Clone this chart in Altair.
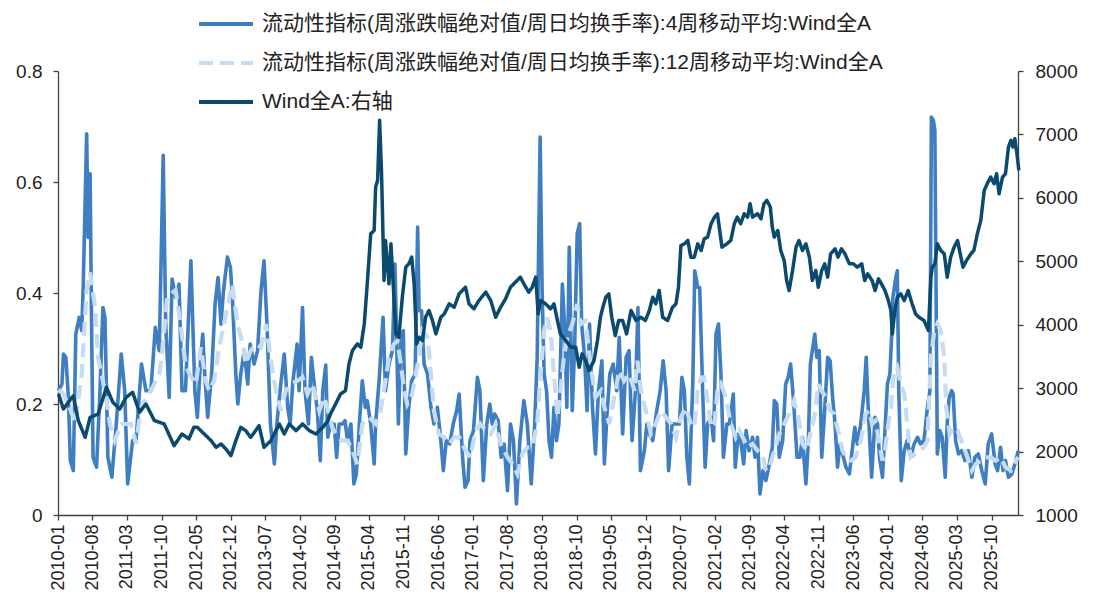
import altair as alt
import pandas as pd
import numpy as np

S1 = "流动性指标(周涨跌幅绝对值/周日均换手率):4周移动平均:Wind全A"
S2 = "流动性指标(周涨跌幅绝对值/周日均换手率):12周移动平均:Wind全A"
S3 = "Wind全A:右轴"

# (months since 2010-01, value)
ma4 = [(0.1,0.224),(0.8,0.236),(1.1,0.290),(1.6,0.284),(2.1,0.212),(2.5,0.098),(3.1,0.080),(3.6,0.326),(4.3,0.356),(4.8,0.332),(5.1,0.410),(5.8,0.687),(6.1,0.500),(6.5,0.615),(6.8,0.344),(7.1,0.104),(7.8,0.086),(8.5,0.224),(9.1,0.374),(9.5,0.356),(10.1,0.104),(10.9,0.068),(11.8,0.164),(12.8,0.290),(13.5,0.224),(14.1,0.056),(15.1,0.134),(15.8,0.134),(16.9,0.272),(17.8,0.224),(18.8,0.224),(19.7,0.338),(20.5,0.296),(21.3,0.648),(21.8,0.344),(22.5,0.212),(23.1,0.425),(23.8,0.392),(24.5,0.416),(25.1,0.224),(25.8,0.224),(26.9,0.458),(27.7,0.224),(28.2,0.176),(28.9,0.284),(29.3,0.326),(29.7,0.254),(30.3,0.176),(31.1,0.254),(31.8,0.380),(32.4,0.428),(33.0,0.344),(33.5,0.404),(34.3,0.465),(34.9,0.446),(35.3,0.392),(36.0,0.254),(36.4,0.200),(37.0,0.254),(37.7,0.296),(38.4,0.236),(38.9,0.308),(39.7,0.272),(40.4,0.296),(41.1,0.404),(41.7,0.458),(42.3,0.344),(43.0,0.164),(43.8,0.092),(44.3,0.164),(45.1,0.236),(45.8,0.290),(46.5,0.194),(47.0,0.164),(47.5,0.236),(48.4,0.308),(48.8,0.224),(49.5,0.374),(50.0,0.224),(50.7,0.164),(51.3,0.284),(52.0,0.224),(52.5,0.188),(53.1,0.098),(53.6,0.224),(54.2,0.270),(54.6,0.140),(55.2,0.164),(55.9,0.164),(56.4,0.104),(56.9,0.164),(57.6,0.164),(58.1,0.170),(58.6,0.134),(59.3,0.164),(59.9,0.056),(60.4,0.074),(61.0,0.164),(61.6,0.242),(62.2,0.194),(62.6,0.206),(63.3,0.164),(64.0,0.092),(64.3,0.164),(65.0,0.242),(65.8,0.356),(66.3,0.224),(67.0,0.272),(67.7,0.296),(68.2,0.452),(68.5,0.344),(68.9,0.164),(69.4,0.314),(69.9,0.332),(70.4,0.110),(71.0,0.194),(71.6,0.242),(72.3,0.254),(72.8,0.519),(73.1,0.368),(73.6,0.368),(74.1,0.272),(74.8,0.254),(75.5,0.194),(76.1,0.164),(76.8,0.194),(77.5,0.134),(78.0,0.080),(78.6,0.134),(79.3,0.128),(80.0,0.164),(80.7,0.188),(81.2,0.218),(81.9,0.104),(82.4,0.050),(83.0,0.062),(83.4,0.134),(84.1,0.152),(84.9,0.248),(85.4,0.224),(86.1,0.062),(86.8,0.164),(87.4,0.200),(87.9,0.164),(88.4,0.182),(89.1,0.170),(89.7,0.104),(90.3,0.128),(91.0,0.044),(91.6,0.164),(92.2,0.134),(92.8,0.020),(93.5,0.134),(94.3,0.206),(95.0,0.164),(95.8,0.056),(96.5,0.164),(97.0,0.284),(97.6,0.681),(98.0,0.404),(98.4,0.254),(98.9,0.224),(99.4,0.134),(99.9,0.104),(100.4,0.194),(100.9,0.134),(101.4,0.164),(102.1,0.416),(102.6,0.332),(103.0,0.194),(103.5,0.483),(104.1,0.188),(104.6,0.308),(105.1,0.507),(105.6,0.525),(106.0,0.344),(106.6,0.284),(107.1,0.188),(107.6,0.344),(108.2,0.194),(108.8,0.110),(109.4,0.224),(110.1,0.278),(110.6,0.092),(111.1,0.176),(111.7,0.254),(112.4,0.272),(113.1,0.224),(113.6,0.320),(114.3,0.146),(115.0,0.284),(115.6,0.296),(116.2,0.134),(116.9,0.224),(117.4,0.374),(117.9,0.080),(118.7,0.116),(119.2,0.164),(119.7,0.146),(120.4,0.134),(121.2,0.188),(121.9,0.224),(122.5,0.278),(123.1,0.224),(123.6,0.080),(124.3,0.164),(125.0,0.164),(125.8,0.164),(126.3,0.248),(126.8,0.224),(127.3,0.104),(127.8,0.056),(128.5,0.236),(128.9,0.440),(129.5,0.410),(129.9,0.410),(130.5,0.224),(131.0,0.086),(131.5,0.164),(132.2,0.176),(132.7,0.134),(133.2,0.326),(133.7,0.344),(134.2,0.254),(134.7,0.104),(135.4,0.164),(135.9,0.164),(136.7,0.218),(137.1,0.086),(137.7,0.146),(138.2,0.134),(138.8,0.092),(139.3,0.152),(139.9,0.116),(140.6,0.140),(141.1,0.104),(141.6,0.140),(142.1,0.038),(142.7,0.080),(143.3,0.062),(144.0,0.092),(144.6,0.122),(145.0,0.206),(145.5,0.200),(146.0,0.104),(146.7,0.134),(147.3,0.236),(147.8,0.248),(148.3,0.272),(148.9,0.206),(149.6,0.104),(150.2,0.104),(150.7,0.140),(151.4,0.056),(151.9,0.134),(152.3,0.272),(152.7,0.296),(153.2,0.326),(153.6,0.284),(154.1,0.296),(154.6,0.104),(155.2,0.188),(155.8,0.284),(156.3,0.278),(156.8,0.212),(157.3,0.164),(157.8,0.086),(158.3,0.128),(159.0,0.104),(159.5,0.086),(160.2,0.074),(160.6,0.104),(161.3,0.158),(161.8,0.128),(162.5,0.164),(163.2,0.224),(163.6,0.284),(164.0,0.194),(164.7,0.068),(165.4,0.176),(165.9,0.164),(166.3,0.104),(166.9,0.068),(167.4,0.152),(167.9,0.236),(168.4,0.254),(168.8,0.332),(169.0,0.392),(169.6,0.428),(169.9,0.440),(170.2,0.224),(170.7,0.062),(171.3,0.116),(171.9,0.134),(172.6,0.104),(173.3,0.128),(174.0,0.140),(174.6,0.128),(175.3,0.134),(176.0,0.194),(176.5,0.224),(176.8,0.717),(177.2,0.711),(177.5,0.693),(177.8,0.344),(178.0,0.110),(178.5,0.152),(179.0,0.140),(179.6,0.068),(180.0,0.164),(180.4,0.212),(180.9,0.224),(181.2,0.218),(181.7,0.134),(182.3,0.110),(182.9,0.116),(183.6,0.098),(184.3,0.116),(185.0,0.068),(185.6,0.104),(186.3,0.110),(187.0,0.080),(187.7,0.056),(188.3,0.128),(189.0,0.146),(189.7,0.092),(190.2,0.080),(190.8,0.122),(191.3,0.080),(191.8,0.098),(192.4,0.068),(193.1,0.074),(193.7,0.092),(194.4,0.116)]

ma12 = [(0.1,0.225),(1.0,0.220),(2.5,0.190),(3.5,0.165),(4.8,0.254),(5.8,0.405),(6.5,0.437),(7.5,0.374),(8.1,0.284),(9.5,0.224),(10.5,0.164),(11.5,0.134),(12.8,0.164),(14.8,0.164),(15.8,0.128),(16.8,0.194),(18.8,0.224),(20.5,0.254),(21.1,0.296),(22.1,0.392),(22.8,0.398),(23.8,0.405),(24.8,0.344),(25.8,0.272),(26.8,0.250),(27.9,0.236),(28.9,0.302),(29.9,0.242),(30.6,0.224),(31.6,0.242),(32.6,0.302),(33.6,0.344),(34.3,0.374),(35.3,0.416),(36.3,0.344),(37.4,0.308),(38.0,0.272),(39.0,0.296),(40.0,0.308),(41.1,0.302),(42.1,0.344),(43.1,0.278),(44.1,0.224),(45.1,0.188),(46.1,0.224),(47.1,0.236),(48.5,0.242),(49.5,0.248),(50.5,0.218),(51.5,0.236),(52.9,0.188),(53.9,0.212),(54.6,0.190),(55.5,0.158),(56.6,0.140),(57.6,0.134),(58.6,0.134),(59.6,0.116),(60.6,0.092),(61.6,0.164),(63.0,0.176),(64.3,0.164),(65.3,0.188),(66.3,0.242),(67.0,0.284),(68.0,0.308),(68.7,0.314),(69.4,0.272),(70.1,0.224),(70.7,0.200),(71.7,0.218),(72.8,0.272),(73.8,0.332),(74.8,0.320),(75.5,0.254),(76.1,0.188),(77.1,0.146),(78.2,0.140),(79.2,0.128),(80.2,0.140),(81.2,0.140),(82.5,0.116),(83.5,0.104),(84.5,0.152),(85.5,0.164),(86.6,0.152),(87.6,0.146),(88.6,0.164),(89.6,0.128),(91.0,0.104),(92.0,0.092),(93.0,0.074),(94.0,0.110),(95.0,0.122),(96.0,0.122),(97.0,0.164),(97.7,0.254),(98.4,0.332),(99.0,0.356),(99.7,0.332),(100.4,0.254),(101.1,0.176),(101.7,0.224),(102.4,0.284),(103.1,0.320),(104.1,0.344),(105.1,0.380),(105.8,0.344),(106.8,0.350),(107.8,0.272),(108.8,0.212),(109.9,0.224),(110.6,0.194),(111.6,0.164),(112.6,0.212),(113.6,0.260),(114.6,0.242),(115.6,0.254),(116.7,0.224),(117.3,0.278),(118.0,0.224),(119.0,0.188),(120.0,0.146),(121.0,0.164),(122.0,0.188),(123.1,0.176),(124.1,0.164),(125.1,0.140),(126.1,0.176),(127.1,0.194),(128.1,0.164),(128.8,0.158),(129.5,0.224),(130.2,0.248),(130.8,0.248),(131.5,0.206),(132.2,0.158),(132.9,0.164),(133.5,0.224),(134.2,0.236),(135.2,0.212),(136.2,0.164),(137.2,0.140),(137.9,0.152),(138.6,0.140),(139.6,0.122),(140.6,0.128),(141.6,0.116),(142.6,0.110),(143.3,0.080),(144.0,0.086),(145.0,0.116),(146.0,0.146),(147.0,0.164),(148.0,0.182),(149.0,0.206),(150.0,0.170),(150.7,0.128),(151.6,0.116),(152.4,0.152),(153.1,0.176),(153.9,0.236),(154.6,0.224),(155.4,0.212),(156.3,0.188),(157.1,0.182),(158.1,0.146),(158.8,0.116),(159.5,0.104),(160.5,0.098),(161.5,0.104),(162.5,0.134),(163.5,0.182),(164.2,0.188),(164.8,0.164),(165.5,0.170),(166.3,0.128),(166.9,0.098),(167.4,0.116),(167.9,0.152),(168.6,0.194),(169.2,0.254),(169.9,0.266),(170.6,0.236),(171.3,0.218),(171.9,0.164),(172.6,0.104),(173.5,0.110),(174.3,0.116),(175.3,0.122),(176.0,0.134),(176.7,0.284),(177.3,0.326),(178.0,0.344),(178.7,0.332),(179.4,0.284),(179.8,0.194),(180.5,0.146),(181.2,0.158),(182.1,0.152),(183.1,0.128),(184.1,0.104),(185.0,0.080),(185.8,0.092),(186.8,0.098),(187.8,0.104),(188.8,0.104),(189.8,0.098),(190.8,0.104),(191.8,0.086),(192.9,0.080),(193.9,0.098),(194.4,0.104)]

winda = [(0.1,2910),(1.1,2670),(2.1,2777),(3.1,2880),(4.1,2490),(5.5,2225),(6.5,2540),(8.1,2590),(9.8,3014),(11.1,2777),(12.5,2670),(13.8,2856),(15.1,2935),(16.5,2620),(17.8,2750),(19.5,2490),(21.5,2435),(23.5,2093),(25.1,2277),(26.5,2200),(27.5,2383),(28.2,2383),(29.6,2277),(31.0,2172),(32.0,2067),(33.0,2120),(34.0,2040),(35.0,1935),(36.0,2172),(37.0,2383),(38.0,2330),(39.0,2225),(40.0,2330),(40.7,2409),(41.7,2067),(43.1,2172),(44.1,2330),(44.8,2435),(45.8,2277),(46.8,2435),(48.2,2330),(49.5,2435),(50.9,2330),(52.2,2277),(53.6,2382),(54.6,2480),(55.2,2600),(56.2,2750),(57.2,2908),(58.2,2961),(58.9,3382),(59.6,3592),(60.6,3697),(61.3,3645),(62.0,4013),(62.6,4644),(63.3,5433),(64.0,5486),(64.3,6170),(64.7,6275),(65.1,7222),(65.5,6380),(66.0,4697),(66.3,5328),(67.0,4644),(67.4,5275),(68.0,4434),(68.4,3855),(69.0,3803),(69.7,4434),(70.4,4907),(71.0,4960),(71.6,5065),(72.1,4644),(72.6,3697),(73.1,3803),(73.8,3750),(74.4,4118),(75.1,4224),(75.8,4066),(76.5,3855),(77.5,4118),(78.2,4171),(79.2,4329),(80.2,4276),(81.2,4487),(82.5,4592),(83.2,4329),(84.2,4250),(85.2,4381),(86.6,4513),(87.6,4381),(88.6,4118),(89.6,4276),(90.6,4408),(91.6,4592),(92.6,4671),(93.6,4750),(94.3,4644),(95.3,4513),(96.0,4592),(96.7,4750),(97.2,4171),(97.7,4381),(98.7,4329),(99.7,4250),(100.4,4329),(101.1,4066),(101.7,3855),(102.8,3750),(103.8,3645),(104.8,3645),(105.5,3329),(106.1,3540),(106.8,3434),(107.5,3276),(108.5,3434),(109.2,3750),(109.8,4118),(110.3,4276),(110.9,4434),(111.5,4487),(112.1,4118),(112.8,3829),(113.5,4066),(114.3,4066),(115.1,3855),(116.0,4224),(117.0,4066),(118.0,4118),(118.9,4066),(119.7,4224),(120.4,4434),(121.0,4329),(121.7,4539),(122.4,4118),(123.4,4066),(124.4,4276),(125.1,4329),(125.6,4592),(126.1,5249),(126.8,5275),(127.5,5328),(128.1,5065),(128.8,5065),(129.5,5275),(130.2,5170),(130.8,5354),(131.5,5381),(132.2,5591),(132.9,5696),(133.5,5749),(134.4,5223),(135.4,5275),(136.2,5330),(136.9,5591),(137.5,5696),(138.2,5591),(138.9,5749),(139.6,5696),(140.1,5907),(140.6,5696),(141.6,5749),(142.3,5670),(142.9,5907),(143.5,5959),(144.2,5854),(144.6,5538),(145.0,5381),(145.7,5486),(146.3,5170),(147.0,5012),(147.5,4697),(148.0,4539),(148.7,4855),(149.4,5223),(150.0,5328),(150.7,5170),(151.4,5275),(152.1,5065),(152.7,4697),(153.4,4855),(153.9,4592),(154.6,4855),(155.2,4960),(155.8,4750),(156.4,5118),(157.3,5197),(157.9,5065),(158.6,5197),(159.3,5118),(160.2,4960),(161.0,4960),(161.8,4907),(162.7,4960),(163.3,4697),(163.9,4802),(164.8,4697),(165.4,4539),(166.1,4723),(166.7,4644),(167.4,4539),(168.1,4381),(168.6,4224),(168.9,3855),(169.4,4224),(169.9,4434),(170.6,4487),(171.3,4381),(172.1,4539),(172.9,4329),(173.6,4171),(174.3,4118),(175.3,4066),(176.2,3908),(176.7,4750),(177.0,4907),(177.5,4960),(178.0,5275),(178.7,5170),(179.4,5118),(180.0,4750),(180.7,5065),(181.4,5223),(182.1,5328),(182.5,5170),(183.2,4907),(183.9,5012),(184.8,5118),(185.4,5170),(186.1,5433),(186.8,5644),(187.5,6117),(188.1,6222),(188.8,6327),(189.5,6222),(190.0,6380),(190.5,6064),(191.2,6327),(191.8,6380),(192.4,6801),(192.9,6906),(193.3,6801),(193.7,6932),(194.2,6643),(194.5,6433)]

x_tick_labels = ["2010-01","2010-08","2011-03","2011-10","2012-05","2012-12","2013-07",
                 "2014-02","2014-09","2015-04","2015-11","2016-06","2017-01","2017-08",
                 "2018-03","2018-10","2019-05","2019-12","2020-07","2021-02","2021-09",
                 "2022-04","2022-11","2023-06","2024-01","2024-08","2025-03","2025-10"]
left_ticks = [0, 0.2, 0.4, 0.6, 0.8]
right_ticks = [1000, 2000, 3000, 4000, 5000, 6000, 7000, 8000]

C4, C12, CW = "#3F7EC0", "#C6DCF0", "#0B4A6E"


def frame(pairs, name):
    m = np.array([p[0] for p in pairs])
    d = pd.Timestamp("2010-01-01") + pd.to_timedelta(m * 30.4375, unit="D")
    return pd.DataFrame({"date": d.strftime("%Y-%m-%dT%H:%M:%S"),
                         "value": [p[1] for p in pairs], "series": name})


df4, df12, dfw = frame(ma4, S1), frame(ma12, S2), frame(winda, S3)

FONT = "Liberation Sans, Arial, Noto Sans CJK SC"

leg = alt.Legend(title=None, orient="none", legendX=146, legendY=-69, direction="vertical",
                 symbolType="M-1.35,0L1.35,0", symbolSize=1600, symbolStrokeWidth=4,
                 labelFont=FONT, labelFontSize=21, labelColor="#222222", labelLimit=1000,
                 labelOffset=14, rowPadding=7, padding=0)

color = alt.Color("series:N", scale=alt.Scale(domain=[S1, S2, S3], range=[C4, C12, CW]), legend=leg)
dash = alt.StrokeDash("series:N", scale=alt.Scale(domain=[S1, S2, S3], range=[[1, 0], [14, 7], [1, 0]]), legend=leg)

X = alt.X("date:T",
          scale=alt.Scale(domain=[alt.DateTime(year=2010, month=1, date=1),
                                  alt.DateTime(year=2026, month=3, date=13)]),
          axis=alt.Axis(values=[alt.DateTime(year=int(s[:4]), month=int(s[5:]), date=1) for s in x_tick_labels],
                        format="%Y-%m", labelAngle=270, title=None, grid=False, labelPadding=4,
                        labelFontSize=18))

YL = alt.Y("value:Q", scale=alt.Scale(domain=[0, 0.8], nice=False, zero=False),
           axis=alt.Axis(values=left_ticks, format=".1~f", orient="left", title=None, grid=False,
                         labelPadding=11))
YR = alt.Y("value:Q", scale=alt.Scale(domain=[1000, 8000], nice=False, zero=False),
           axis=alt.Axis(values=right_ticks, format="d", orient="right", title=None, grid=False,
                         labelPadding=12))

l4 = alt.Chart(df4).mark_line(strokeWidth=3.6, strokeJoin="round").encode(x=X, y=YL, color=color, strokeDash=dash)
l12 = alt.Chart(df12).mark_line(strokeWidth=4.2).encode(x=X, y=YL, color=color, strokeDash=dash)
lw = alt.Chart(dfw).mark_line(strokeWidth=3.5, strokeJoin="round").encode(x=X, y=YR, color=color, strokeDash=dash)

left = alt.layer(l4, l12)
chart = alt.layer(left, lw).resolve_scale(y="independent").properties(
    width=960, height=444,
    autosize=alt.AutoSizeParams(type="none"),
    padding={"left": 50, "top": 63, "right": 68, "bottom": 76},
    background="white",
).configure_view(strokeWidth=0).configure_axis(
    domainColor="#404040", tickColor="#404040", domainWidth=1.3, tickWidth=1.3, tickSize=5,
    labelColor="#222222", labelFont=FONT, labelFontSize=19,
)

chart.save("out.html", embed_options={"renderer": "svg", "actions": False})
